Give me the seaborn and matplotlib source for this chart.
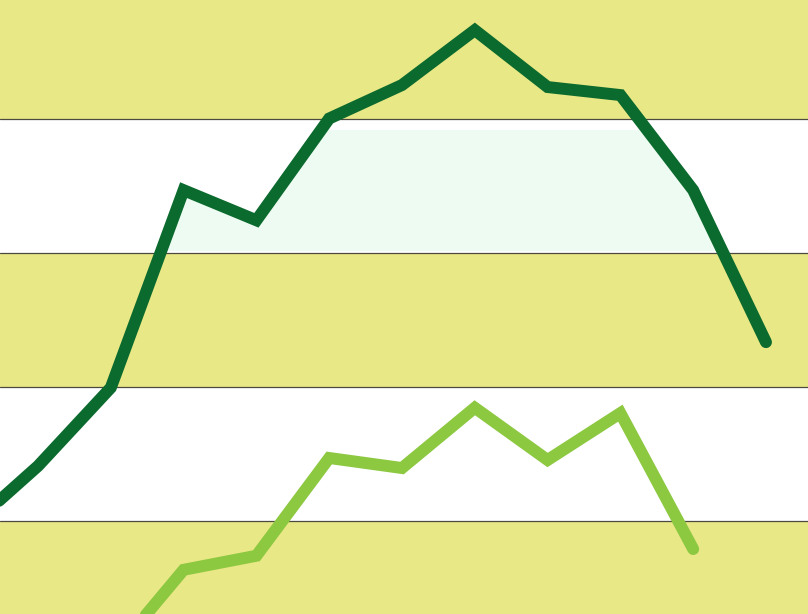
import pandas as pd
import matplotlib
matplotlib.use("Agg")
import matplotlib.pyplot as plt
import matplotlib.patches as mpatches
import seaborn as sns

# series values (index = period)
dark_idx = [0, 1, 2, 3, 4, 5, 6, 7, 8, 9, 10, 11]
dark_vals = [18.5, 28.2, 39.9, 69.4, 64.9, 80.1, 85.1, 93.3, 84.8, 83.6, 69.4, 46.7]

light_idx = [2, 3, 4, 5, 6, 7, 8, 9, 10]
light_vals = [-0.3, 12.7, 14.8, 29.4, 27.9, 36.9, 29.1, 36.1, 15.8]

grid_levels = [20, 40, 60, 80]

df = pd.concat([
    pd.DataFrame({"x": dark_idx, "y": dark_vals, "series": "dark"}),
    pd.DataFrame({"x": light_idx, "y": light_vals, "series": "light"}),
])

sns.set_style("white")
fig = plt.figure(figsize=(8.08, 6.14), dpi=100)
ax = fig.add_axes([0, 0, 1, 1])

yellow = "#e9e886"
ymin, ymax = 6.1, 97.8
# alternating bands
ax.axhspan(80, ymax + 5, color=yellow, lw=0, zorder=0)
ax.axhspan(40, 60, color=yellow, lw=0, zorder=0)
ax.axhspan(ymin - 5, 20, color=yellow, lw=0, zorder=0)

# faint shade under the dark line, only inside the white band
shade = ax.fill_between(dark_idx, 60.4, dark_vals, color="#edfbf2", lw=0, zorder=0.5)
clip = mpatches.Rectangle((-1, 60.4), 14, 18.0, transform=ax.transData)
shade.set_clip_path(clip)

for g in grid_levels:
    ax.axhline(g, color="#4a4a40", lw=0.9, zorder=1)

sns.lineplot(data=df, x="x", y="y", hue="series",
             palette={"dark": "#0b6a2d", "light": "#8dc841"},
             linewidth=8.6, legend=False, ax=ax, zorder=3,
             solid_capstyle="round", solid_joinstyle="miter")

ax.set_xlim(0.478, 11.577)
ax.set_ylim(ymin, ymax)
ax.set_axis_off()

fig.savefig("out.png", dpi=100)
